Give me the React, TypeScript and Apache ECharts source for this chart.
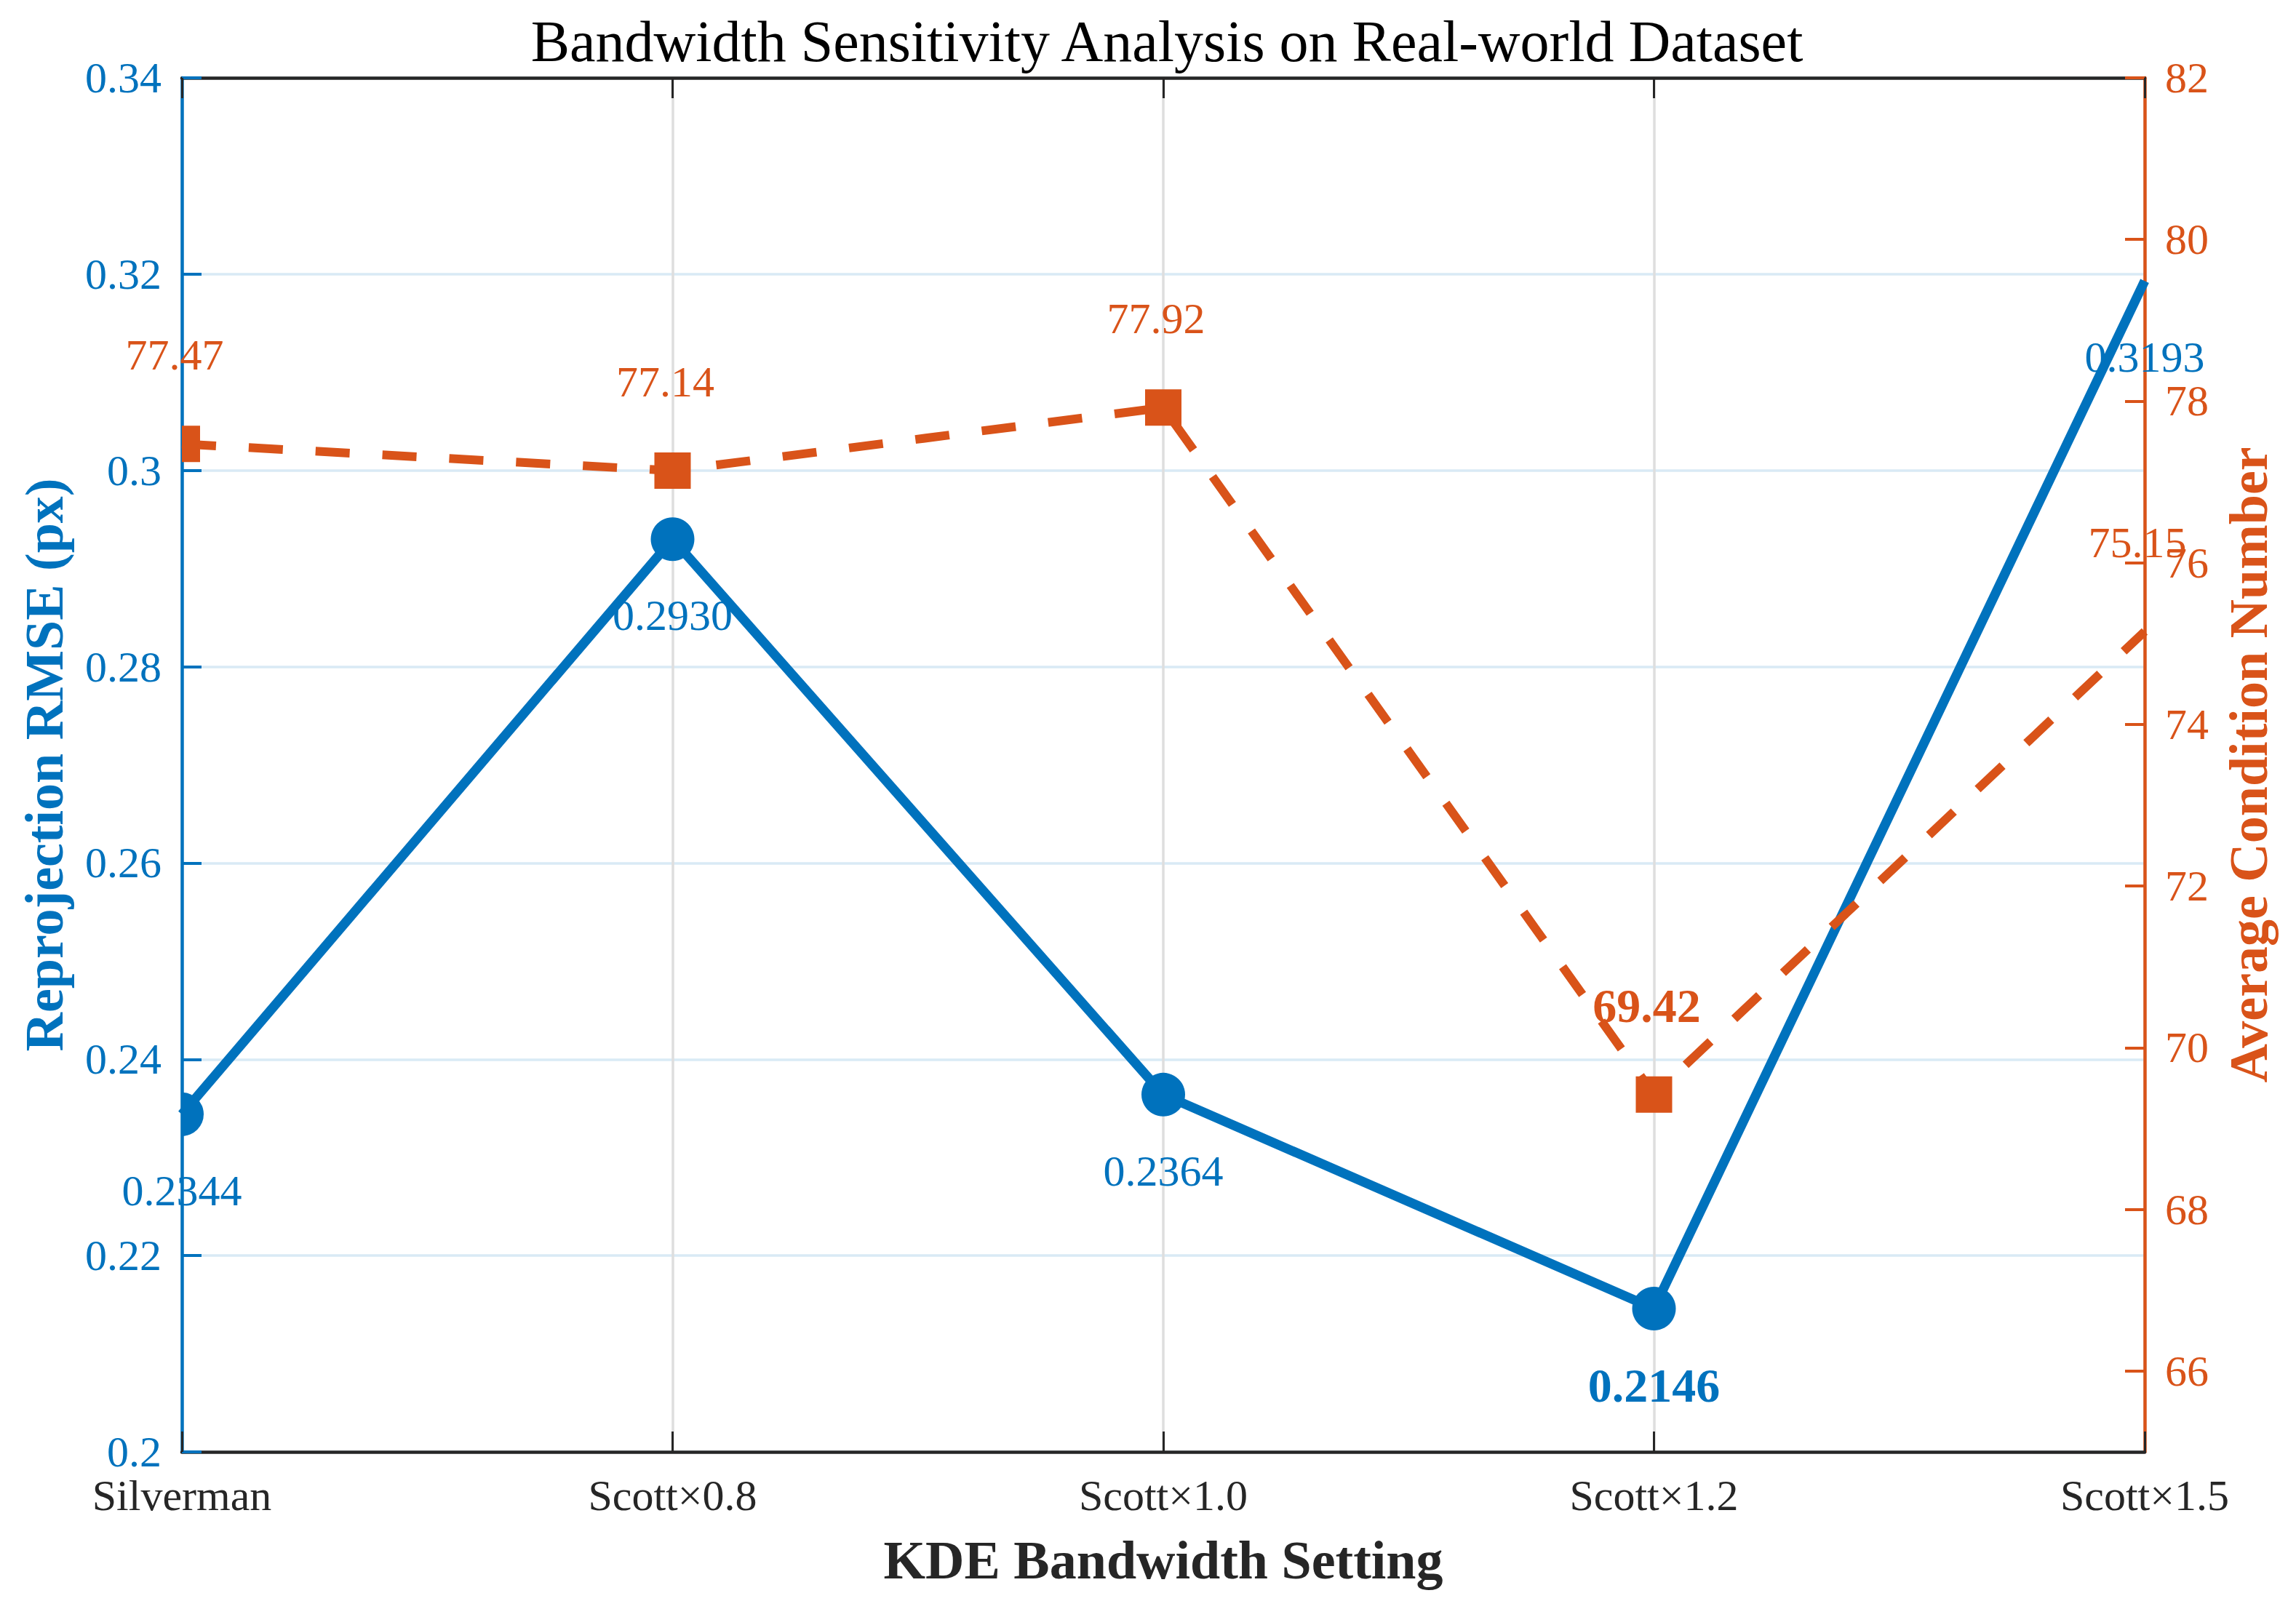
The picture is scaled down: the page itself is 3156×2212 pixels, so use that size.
import * as echarts from 'echarts';
import { useEffect, useRef } from 'react';

const categories = ['Silverman', 'Scott×0.8', 'Scott×1.0', 'Scott×1.2', 'Scott×1.5'];
const rmseValues = [0.2344, 0.293, 0.2364, 0.2146, 0.3193];
const condValues = [77.47, 77.14, 77.92, 69.42, 75.15];
const condTicks = [66, 68, 70, 72, 74, 76, 78, 80, 82];

const BLUE = '#0072BD';
const ORANGE = '#D95319';
const INK = '#262626';
const FONT = '"Liberation Serif", "Times New Roman", serif';

// half disk bulging right, used for the clipped first marker
const HALF_DISK = 'path://M0,0 A10,10 0 0 1 0,20 Z';

const BLUE_LABEL_OFFSET = [0, 105];
const ORANGE_LABEL_OFFSET = [-10, -122];

export default function App() {
  const ref = useRef<HTMLDivElement | null>(null);

  useEffect(() => {
    if (!ref.current) return undefined;
    const chart = echarts.init(ref.current, undefined, { renderer: 'svg' });

    const last = categories.length - 1;
    const rmseMin = rmseValues.indexOf(Math.min(...rmseValues));
    const condMin = condValues.indexOf(Math.min(...condValues));

    const rmseData = rmseValues.map((v, i) => {
      const item: any = { value: v, label: {} };
      if (i === 0) {
        // marker is clipped by the axis, so only its right half shows
        item.symbol = HALF_DISK;
        item.symbolSize = [30, 60];
        item.symbolOffset = [15, 0];
        item.label.offset = [BLUE_LABEL_OFFSET[0] - 15, BLUE_LABEL_OFFSET[1]];
      } else if (i === last) {
        item.symbolSize = 1;
        item.itemStyle = { color: 'rgba(0,0,0,0)' };
      }
      if (i === rmseMin) Object.assign(item.label, { fontWeight: 'bold', fontSize: 66 });
      return item;
    });

    const condData = condValues.map((v, i) => {
      const item: any = { value: v, label: {} };
      if (i === 0) {
        item.symbolSize = [25, 50];
        item.symbolOffset = [12.5, 0];
        item.label.offset = [ORANGE_LABEL_OFFSET[0] - 12.5, ORANGE_LABEL_OFFSET[1]];
      } else if (i === last) {
        item.symbolSize = 1;
        item.itemStyle = { color: 'rgba(0,0,0,0)' };
      }
      if (i === condMin) Object.assign(item.label, { fontWeight: 'bold', fontSize: 66 });
      return item;
    });

    chart.setOption({
      animation: false,
      backgroundColor: '#ffffff',
      textStyle: { fontFamily: FONT },
      title: {
        text: 'Bandwidth Sensitivity Analysis on Real-world Dataset',
        left: 1599,
        textAlign: 'center',
        top: 12,
        textStyle: { fontFamily: FONT, fontSize: 80, fontWeight: 'normal', color: '#000' },
      },
      grid: { left: 250, right: 208, top: 107, bottom: 216 },
      xAxis: [
        {
          type: 'category',
          data: categories,
          boundaryGap: false,
          position: 'bottom',
          name: 'KDE Bandwidth Setting',
          nameLocation: 'middle',
          nameGap: 112,
          nameTextStyle: { fontFamily: FONT, fontSize: 74, fontWeight: 'bold', color: INK },
          axisLine: { lineStyle: { color: INK, width: 4.5 } },
          axisTick: { inside: true, length: 28, lineStyle: { color: INK, width: 3 } },
          axisLabel: { fontFamily: FONT, fontSize: 60, color: INK, margin: 30 },
          splitLine: { show: true, lineStyle: { color: '#dedede', width: 3.5 } },
        },
        {
          type: 'category',
          data: categories,
          boundaryGap: false,
          position: 'top',
          axisLine: { lineStyle: { color: INK, width: 4.5 } },
          axisTick: { inside: true, length: 28, lineStyle: { color: INK, width: 3 } },
          axisLabel: { show: false },
          splitLine: { show: false },
        },
      ],
      yAxis: [
        {
          type: 'value',
          min: 0.2,
          max: 0.34,
          interval: 0.02,
          position: 'left',
          name: 'Reprojection RMSE (px)',
          nameLocation: 'middle',
          nameRotate: 90,
          nameGap: 152,
          nameTextStyle: { fontFamily: FONT, fontSize: 74, fontWeight: 'bold', color: BLUE },
          axisLine: { show: true, lineStyle: { color: BLUE, width: 4.5 } },
          axisTick: { show: true, inside: true, length: 27, lineStyle: { color: BLUE, width: 4 } },
          axisLabel: { fontFamily: FONT, fontSize: 60, color: BLUE, margin: 28 },
          splitLine: { show: true, lineStyle: { color: '#d9eaf5', width: 3.5 } },
        },
        {
          type: 'value',
          min: 65,
          max: 82,
          position: 'right',
          name: 'Average Condition Number',
          nameLocation: 'middle',
          nameRotate: 90,
          nameGap: 106,
          nameTextStyle: { fontFamily: FONT, fontSize: 74, fontWeight: 'bold', color: ORANGE },
          axisLine: { show: true, lineStyle: { color: ORANGE, width: 4.5 } },
          axisTick: {
            show: true,
            inside: true,
            length: 27,
            customValues: condTicks,
            lineStyle: { color: ORANGE, width: 4 },
          },
          axisLabel: {
            fontFamily: FONT,
            fontSize: 60,
            color: ORANGE,
            margin: 28,
            customValues: condTicks,
          },
          splitLine: { show: false },
        },
      ],
      series: [
        {
          type: 'line',
          name: 'RMSE',
          data: rmseData,
          xAxisIndex: 0,
          yAxisIndex: 0,
          clip: false,
          symbol: 'circle',
          symbolSize: 60,
          itemStyle: { color: BLUE },
          lineStyle: { color: BLUE, width: 13 },
          label: {
            show: true,
            position: 'inside',
            offset: BLUE_LABEL_OFFSET,
            fontFamily: FONT,
            fontSize: 60,
            color: BLUE,
            formatter: (p: any) => Number(p.value).toFixed(4),
          },
          z: 3,
        },
        {
          type: 'line',
          name: 'Condition',
          data: condData,
          xAxisIndex: 0,
          yAxisIndex: 1,
          clip: false,
          symbol: 'rect',
          symbolSize: 50,
          itemStyle: { color: ORANGE },
          lineStyle: { color: ORANGE, width: 12, type: [47, 45] },
          label: {
            show: true,
            position: 'inside',
            offset: ORANGE_LABEL_OFFSET,
            fontFamily: FONT,
            fontSize: 60,
            color: ORANGE,
            formatter: (p: any) => Number(p.value).toFixed(2),
          },
          z: 4,
        },
      ],
    });

    return () => chart.dispose();
  }, []);

  return (
    <div
      ref={ref}
      style={{ position: 'fixed', left: 0, top: 0, width: 3156, height: 2212, background: '#fff' }}
    />
  );
}
